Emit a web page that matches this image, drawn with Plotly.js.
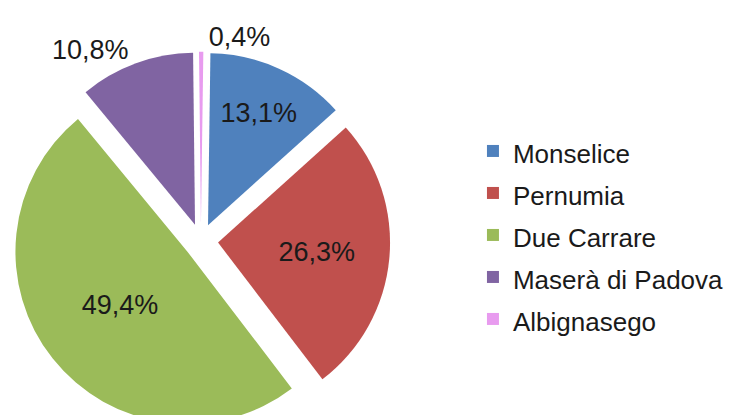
<!DOCTYPE html>
<html>
<head>
<meta charset="utf-8">
<script src="https://cdn.plot.ly/plotly-3.0.1.min.js"></script>
<style>
html,body{margin:0;padding:0;background:#fff;overflow:hidden;width:731px;height:415px;}
#chart{width:731px;height:440px;}
</style>
</head>
<body>
<div id="chart"></div>
<script>
const categories = ["Monselice", "Pernumia", "Due Carrare", "Maserà di Padova", "Albignasego"];
const shares = [13.1, 26.3, 49.4, 10.8, 0.4];
const colors = ["#4F81BD", "#C0504D", "#9BBB59", "#8064A2", "#E89BEF"];
const labelPositions = ["inside", "inside", "inside", "outside", "outside"];

const trace = {
  type: "pie",
  labels: categories.map(c => '<span style="font-size:26px">' + c + '</span>'),
  values: shares,
  sort: false,
  direction: "clockwise",
  rotation: 0.8,
  pull: 0.1,
  marker: {colors: colors, line: {width: 0}},
  textinfo: "percent",
  textposition: labelPositions,
  insidetextorientation: "horizontal",
  insidetextfont: {family: "Liberation Sans, Arial, sans-serif", size: 27, color: "#1a1a1a"},
  outsidetextfont: {family: "Liberation Sans, Arial, sans-serif", size: 27, color: "#1a1a1a"},
  hoverinfo: "none",
  domain: {x: [0.0160, 0.5337], y: [0.0223, 0.8823]}
};

const layout = {
  width: 731,
  height: 440,
  margin: {l: 0, r: 0, t: 0, b: 0},
  paper_bgcolor: "#ffffff",
  separators: ",.",
  showlegend: true,
  legend: {
    x: 0.647, xanchor: "left",
    y: 0.716, yanchor: "top",
    font: {family: "Liberation Sans, Arial, sans-serif", size: 30, color: "#1a1a1a"},
    bgcolor: "rgba(0,0,0,0)"
  }
};

Plotly.newPlot("chart", [trace], layout, {staticPlot: true, displayModeBar: false});
</script>
</body>
</html>
